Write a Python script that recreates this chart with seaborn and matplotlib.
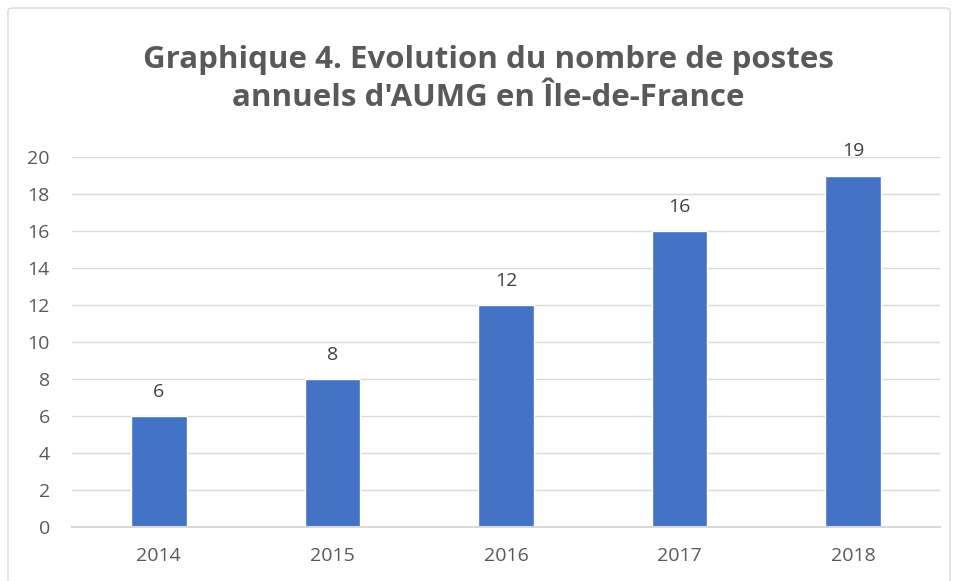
import matplotlib
matplotlib.use("Agg")
import matplotlib.pyplot as plt
import seaborn as sns
import pandas as pd
from matplotlib.patches import FancyBboxPatch

years = ["2014", "2015", "2016", "2017", "2018"]
postes = [6, 8, 12, 16, 19]
yticks = [0, 2, 4, 6, 8, 10, 12, 14, 16, 18, 20]
title = "Graphique 4. Evolution du nombre de postes\nannuels d'AUMG en Île-de-France"

sns.set_theme(style="white")
plt.rcParams['font.family'] = ['Open Sans', 'DejaVu Sans']

df = pd.DataFrame({"year": years, "postes": postes})

fig = plt.figure(figsize=(9.55, 5.81), dpi=100)
W, H = 955, 581
ax = fig.add_axes([72 / W, 1 - 527 / H, (940 - 72) / W, (527 - 157) / H])

sns.barplot(data=df, x="year", y="postes", ax=ax, color="#4472C4",
            width=0.32, saturation=1)

ax.set_xlim(-0.5, 4.5)
ax.set_ylim(0, 20)
ax.set_yticks(yticks)
ax.set_yticklabels([str(t) for t in yticks])
ax.yaxis.grid(True, color="#D9D9D9", linewidth=1)
ax.set_axisbelow(True)
for s in ["top", "right", "left"]:
    ax.spines[s].set_visible(False)
ax.spines["bottom"].set_color("#D9D9D9")
ax.spines["bottom"].set_linewidth(1.5)
ax.tick_params(axis="both", length=0, labelsize=14, colors="#595959")
ax.tick_params(axis="y", pad=16)
ax.tick_params(axis="x", pad=14.5)
ax.set_xlabel("")
ax.set_ylabel("")

for i, v in enumerate(postes):
    ax.annotate(str(v), (i, v), xytext=(0, 17.5), textcoords="offset points",
                ha="center", va="center", fontsize=14, color="#404040")

fig.text(488 / W, 1 - 79 / H, title, ha="center", va="center", fontsize=22.5,
         fontweight="bold", color="#595959", linespacing=1.35)

border = FancyBboxPatch((8 / W, -0.05), (950 - 8) / W, 1 - 8 / H + 0.05,
                        boxstyle="round,pad=0,rounding_size=0.005",
                        transform=fig.transFigure, facecolor="none",
                        edgecolor="#D9D9D9", linewidth=1)
fig.patches.append(border)

fig.savefig("out.png", dpi=100)
